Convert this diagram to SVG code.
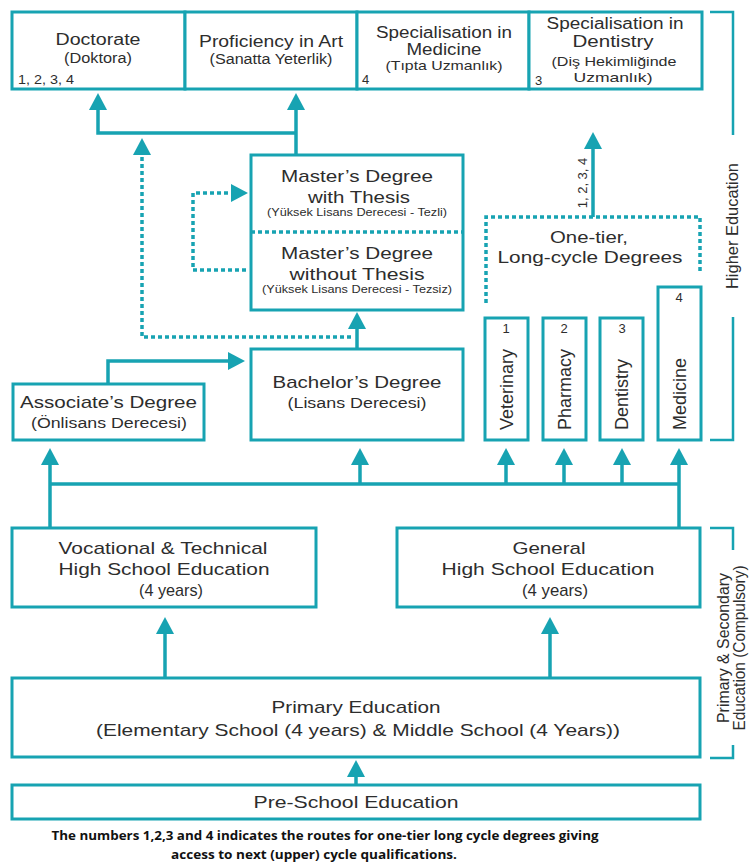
<svg xmlns="http://www.w3.org/2000/svg" width="754" height="863" viewBox="0 0 754 863">
<style>
.box{fill:#fff;stroke:#17a3b2;stroke-width:3}
.ln{fill:none;stroke:#17a3b2;stroke-width:3.5}
.dl{fill:none;stroke:#17a3b2;stroke-width:3.5;stroke-dasharray:4 3}
.br{fill:none;stroke:#17a3b2;stroke-width:2.5}
text{font-family:"Liberation Sans",Arial,Helvetica,sans-serif;fill:#2d2d2d}
.t{font-size:17px;text-anchor:middle}
.tt{font-size:16px;text-anchor:middle}
.s{font-size:14px;text-anchor:middle}
.ss{font-size:13px;text-anchor:middle}
.xs{font-size:11px;text-anchor:middle}
.n{font-size:13px}
.cap{font-family:"Open Sans","Liberation Sans",sans-serif;font-weight:bold;font-size:13px;text-anchor:middle;fill:#111}
</style>
<defs>
<marker id="ah" markerUnits="userSpaceOnUse" markerWidth="18" markerHeight="18" viewBox="0 0 17 18" refX="13" refY="9" orient="auto">
<path d="M0,0 L17,9 L0,18 Z" fill="#17a3b2"/>
</marker>
</defs>

<g id="connectors">
<path class="ln" d="M296,155 V97" marker-end="url(#ah)"/>
<path class="ln" d="M296,133 H98 V97" marker-end="url(#ah)"/>
<path class="ln" d="M357,349 V316" marker-end="url(#ah)"/>
<path class="dl" d="M351,337 H142 V142" marker-end="url(#ah)"/>
<path class="dl" d="M246,270 H193 V193 H244" marker-end="url(#ah)"/>
<path class="ln" d="M108,384 V361 H241" marker-end="url(#ah)"/>
<path class="ln" d="M50,484 H679"/>
<path class="ln" d="M50,528 V452" marker-end="url(#ah)"/>
<path class="ln" d="M360,484 V452" marker-end="url(#ah)"/>
<path class="ln" d="M506,484 V452" marker-end="url(#ah)"/>
<path class="ln" d="M564,484 V452" marker-end="url(#ah)"/>
<path class="ln" d="M622,484 V452" marker-end="url(#ah)"/>
<path class="ln" d="M679,528 V452" marker-end="url(#ah)"/>
<path class="ln" d="M165,678 V621" marker-end="url(#ah)"/>
<path class="ln" d="M550,678 V621" marker-end="url(#ah)"/>
<path class="ln" d="M356,785 V764" marker-end="url(#ah)"/>
<path class="ln" d="M593,217 V136" marker-end="url(#ah)"/>
<text class="n" transform="translate(587,183) rotate(-90)" text-anchor="middle" font-size="12">1, 2, 3, 4</text>
</g>

<g id="doctorate">
<rect class="box" x="12" y="12" width="173" height="77"/>
<text class="tt" x="98" y="45" textLength="85" lengthAdjust="spacingAndGlyphs">Doctorate</text>
<text class="s" x="98" y="63" textLength="68" lengthAdjust="spacingAndGlyphs">(Doktora)</text>
<text class="n" x="18" y="84" textLength="56" lengthAdjust="spacingAndGlyphs">1, 2, 3, 4</text>
</g>
<g id="proficiency">
<rect class="box" x="185" y="12" width="172" height="77"/>
<text class="tt" x="271" y="47" textLength="144" lengthAdjust="spacingAndGlyphs">Proficiency in Art</text>
<text class="s" x="271" y="64" textLength="123" lengthAdjust="spacingAndGlyphs">(Sanatta Yeterlik)</text>
</g>
<g id="spec-medicine">
<rect class="box" x="357" y="12" width="172" height="77"/>
<text class="tt" x="444" y="38" textLength="136" lengthAdjust="spacingAndGlyphs">Specialisation in</text>
<text class="tt" x="444" y="55" textLength="75" lengthAdjust="spacingAndGlyphs">Medicine</text>
<text class="ss" x="444" y="70" textLength="117" lengthAdjust="spacingAndGlyphs">(Tıpta Uzmanlık)</text>
<text class="n" x="362" y="84">4</text>
</g>
<g id="spec-dentistry">
<rect class="box" x="529" y="12" width="173" height="77"/>
<text class="tt" x="615" y="29" textLength="137" lengthAdjust="spacingAndGlyphs">Specialisation in</text>
<text class="tt" x="613" y="47" textLength="81" lengthAdjust="spacingAndGlyphs">Dentistry</text>
<text class="ss" x="614" y="66" textLength="125" lengthAdjust="spacingAndGlyphs">(Diş Hekimliğinde</text>
<text class="ss" x="613" y="82" textLength="79" lengthAdjust="spacingAndGlyphs">Uzmanlık)</text>
<text class="n" x="535" y="85">3</text>
</g>

<g id="masters">
<rect class="box" x="251" y="155" width="212" height="155"/>
<line class="dl" x1="251" y1="232" x2="463" y2="232" stroke-width="3"/>
<text class="t" x="357" y="182" textLength="152" lengthAdjust="spacingAndGlyphs">Master’s Degree</text>
<text class="t" x="359" y="203" textLength="102" lengthAdjust="spacingAndGlyphs">with Thesis</text>
<text class="xs" x="357" y="216" textLength="180" lengthAdjust="spacingAndGlyphs">(Yüksek Lisans Derecesi - Tezli)</text>
<text class="t" x="357" y="259" textLength="152" lengthAdjust="spacingAndGlyphs">Master’s Degree</text>
<text class="t" x="357" y="280" textLength="135" lengthAdjust="spacingAndGlyphs">without Thesis</text>
<text class="xs" x="357" y="293" textLength="190" lengthAdjust="spacingAndGlyphs">(Yüksek Lisans Derecesi - Tezsiz)</text>
</g>

<g id="bachelors">
<rect class="box" x="251" y="349" width="212" height="91"/>
<text class="t" x="357" y="388" textLength="169" lengthAdjust="spacingAndGlyphs">Bachelor’s Degree</text>
<text class="s" x="357" y="408" textLength="139" lengthAdjust="spacingAndGlyphs">(Lisans Derecesi)</text>
</g>

<g id="associates">
<rect class="box" x="13" y="384" width="191" height="56"/>
<text class="t" x="108.5" y="408" textLength="177" lengthAdjust="spacingAndGlyphs">Associate’s Degree</text>
<text class="s" x="109" y="428" textLength="156" lengthAdjust="spacingAndGlyphs">(Önlisans Derecesi)</text>
</g>

<g id="one-tier">
<path class="dl" d="M486,303 V217 H700 V272" stroke-width="3" stroke-dasharray="3 3"/>
<text class="t" x="589" y="243" textLength="78" lengthAdjust="spacingAndGlyphs">One-tier,</text>
<text class="t" x="590" y="263" textLength="185" lengthAdjust="spacingAndGlyphs">Long-cycle Degrees</text>
</g>

<g id="veterinary">
<rect class="box" x="485" y="318" width="43" height="122"/>
<text class="n" x="506" y="333" text-anchor="middle">1</text>
<text font-size="18" transform="translate(512.5,430) rotate(-90)">Veterinary</text>
</g>
<g id="pharmacy">
<rect class="box" x="543" y="318" width="43" height="122"/>
<text class="n" x="564" y="333" text-anchor="middle">2</text>
<text font-size="18" transform="translate(570.5,430) rotate(-90)">Pharmacy</text>
</g>
<g id="dentistry">
<rect class="box" x="600" y="318" width="43" height="122"/>
<text class="n" x="622" y="333" text-anchor="middle">3</text>
<text font-size="18" transform="translate(628,430) rotate(-90)">Dentistry</text>
</g>
<g id="medicine">
<rect class="box" x="658" y="287" width="43" height="153"/>
<text class="n" x="679" y="302" text-anchor="middle">4</text>
<text font-size="18" transform="translate(685.5,430) rotate(-90)">Medicine</text>
</g>

<g id="higher-education-label">
<path class="br" d="M710,12 H733 V135"/>
<path class="br" d="M733,317 V440 H710"/>
<text font-size="16" text-anchor="middle" transform="translate(738,226) rotate(-90)" textLength="126" lengthAdjust="spacingAndGlyphs">Higher Education</text>
</g>

<g id="vocational">
<rect class="box" x="12" y="528" width="304" height="79"/>
<text class="t" x="163" y="554" textLength="209" lengthAdjust="spacingAndGlyphs">Vocational &amp; Technical</text>
<text class="t" x="164" y="575" textLength="211" lengthAdjust="spacingAndGlyphs">High School Education</text>
<text class="t" x="171" y="596" textLength="64" lengthAdjust="spacingAndGlyphs">(4 years)</text>
</g>
<g id="general">
<rect class="box" x="397" y="528" width="303" height="79"/>
<text class="t" x="549" y="554" textLength="73" lengthAdjust="spacingAndGlyphs">General</text>
<text class="t" x="548" y="575" textLength="213" lengthAdjust="spacingAndGlyphs">High School Education</text>
<text class="t" x="555" y="596" textLength="66" lengthAdjust="spacingAndGlyphs">(4 years)</text>
</g>

<g id="primary">
<rect class="box" x="12" y="678" width="688" height="79"/>
<text class="t" x="356" y="713" textLength="169" lengthAdjust="spacingAndGlyphs">Primary Education</text>
<text class="t" x="358" y="736" textLength="524" lengthAdjust="spacingAndGlyphs">(Elementary School (4 years) &amp; Middle School (4 Years))</text>
</g>

<g id="preschool">
<rect class="box" x="12" y="785" width="688" height="34"/>
<text class="t" x="356" y="808" textLength="205" lengthAdjust="spacingAndGlyphs">Pre-School Education</text>
</g>

<g id="compulsory-label">
<path class="br" d="M710,528 H733 V550"/>
<path class="br" d="M733,745 V758 H710"/>
<text font-size="16" text-anchor="middle" transform="translate(729,648) rotate(-90)" textLength="150" lengthAdjust="spacingAndGlyphs">Primary &amp; Secondary</text>
<text font-size="16" text-anchor="middle" transform="translate(745,648) rotate(-90)" textLength="165" lengthAdjust="spacingAndGlyphs">Education (Compulsory)</text>
</g>

<g id="caption">
<text class="cap" x="325" y="840" textLength="547" lengthAdjust="spacingAndGlyphs">The numbers 1,2,3 and 4 indicates the routes for one-tier long cycle degrees giving</text>
<text class="cap" x="314" y="859" textLength="286" lengthAdjust="spacingAndGlyphs">access to next (upper) cycle qualifications.</text>
</g>
</svg>
